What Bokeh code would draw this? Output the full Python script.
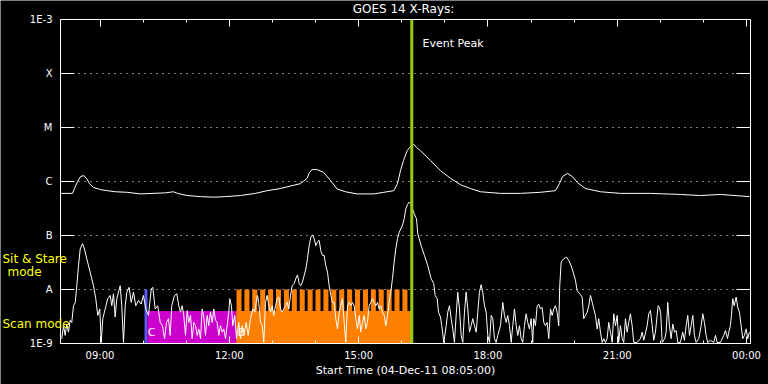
import numpy as np
from bokeh.plotting import figure
from bokeh.models import (FixedTicker, CustomJSTickFormatter, LogAxis, LinearAxis,
                          Label, Range1d, ColumnDataSource)
from bokeh.embed import file_html
from bokeh.resources import INLINE

# ---------------- data ----------------
START_HOUR = 8 + 5 / 60.0          # Start Time 04-Dec-11 08:05:00
END_HOUR = 24.09

x_ticks = [9, 12, 15, 18, 21, 24]
x_tick_labels = ["09:00", "12:00", "15:00", "18:00", "21:00", "00:00"]
x_minor_ticks = list(range(9, 25))

y_exponents = [-9, -8, -7, -6, -5, -4, -3]
y_tick_labels = ["1E-9", "A", "B", "C", "M", "X", "1E-3"]
grid_exponents = [-8, -7, -6, -5, -4]

# long channel (1-8 A): minutes after start, log10 flux
long_min = [1, 16.7, 19.5, 23.7, 27.8, 32.4, 36.2, 40.4, 45.9, 55.7,
            65.0, 76.6, 92.8, 111.4, 146.2, 157.3, 162.9, 176.4, 194.9, 213.0,
            229.7, 250.6, 271.4, 287.7, 306.2, 324.3, 334.1, 343.4, 346.6, 350.4,
            357.3, 366.1, 375.8, 385.2, 396.7, 413.0, 436.1, 450.0, 463.9, 469.1,
            473.3, 477.5, 482.6, 487.2, 491.8, 495.6, 501.1, 515.0, 528.9, 542.9,
            556.8, 570.7, 584.6, 612.5, 640.3, 668.2, 689.0, 694.6, 698.8, 705.7,
            712.7, 719.6, 730.8, 751.7, 779.5, 821.3, 863.0, 890.9, 918.7, 959.1]
long_log = [-6.22, -6.22, -6.13, -6.00, -5.91, -5.89, -5.94, -6.04, -6.11, -6.15,
            -6.17, -6.19, -6.20, -6.23, -6.21, -6.19, -6.22, -6.26, -6.28, -6.29,
            -6.28, -6.26, -6.22, -6.17, -6.13, -6.07, -6.04, -5.94, -5.83, -5.78,
            -5.78, -5.83, -5.98, -6.14, -6.19, -6.23, -6.23, -6.20, -6.17, -6.04,
            -5.80, -5.61, -5.43, -5.35, -5.31, -5.37, -5.43, -5.61, -5.80, -5.94,
            -6.06, -6.13, -6.19, -6.22, -6.22, -6.20, -6.17, -6.04, -5.91, -5.85,
            -5.91, -6.02, -6.13, -6.19, -6.22, -6.22, -6.24, -6.26, -6.24, -6.28]

# short channel (0.5-4 A): minutes after start, log10 flux
short_min = [1.8, 4.2, 6.5, 8.8, 11.1, 13.5, 15.7, 18.1, 20.5, 22.7,
             25.1, 27.4, 30.6, 33.4, 36.6, 41.3, 45.9, 49.1, 51.9, 54.7,
             56.7, 58.9, 62.2, 65.8, 69.2, 71.4, 73.8, 76.1, 78.4, 80.7,
             83.1, 85.3, 87.7, 90.1, 92.3, 95.6, 98.4, 101.6, 104.8, 108.6,
             112.3, 115.5, 118.7, 122.5, 126.3, 128.5, 131.8, 135.4, 138.8, 142.0,
             144.8, 147.6, 150.3, 152.7, 154.9, 158.7, 161.9, 164.7, 167.0, 169.4,
             171.6, 174.0, 176.4, 178.6, 181.0, 183.3, 185.6, 187.9, 190.3, 192.5,
             194.9, 197.2, 199.5, 201.8, 204.2, 206.4, 208.8, 211.2, 213.4, 215.8,
             218.1, 220.4, 222.7, 225.1, 227.3, 229.7, 232.0, 234.3, 235.7, 238.0,
             239.8, 242.6, 245.0, 248.2, 250.6, 252.9, 255.2, 258.5, 261.3, 264.5,
             267.7, 270.5, 272.4, 274.2, 276.0, 278.4, 280.8, 283.0, 285.4, 287.7,
             290.0, 292.3, 294.7, 296.9, 299.3, 301.6, 303.9, 306.2, 308.6, 310.8,
             313.2, 315.6, 317.8, 320.2, 322.5, 325.3, 327.5, 329.9, 332.3, 334.5,
             336.9, 339.2, 341.5, 343.8, 346.2, 348.4, 350.8, 353.2, 355.4, 357.7,
             360.1, 362.3, 364.7, 367.1, 369.3, 371.7, 374.0, 376.3, 378.6, 381.0,
             383.2, 385.6, 388.0, 390.2, 392.5, 394.9, 397.1, 399.5, 401.9, 404.1,
             406.5, 408.8, 411.1, 413.4, 415.8, 418.0, 420.4, 422.8, 425.0, 427.3,
             429.7, 431.9, 434.3, 436.7, 438.9, 441.3, 443.6, 445.9, 448.2, 450.6,
             452.8, 455.2, 457.5, 459.8, 462.1, 464.5, 466.7, 469.1, 471.5, 473.7,
             476.1, 478.5, 480.7, 483.0, 485.4, 487.6, 492.4, 495.6, 497.4, 502.1,
             506.7, 511.3, 516.0, 519.6, 521.6, 524.4, 526.2, 529.0, 530.8, 533.6,
             536.9, 539.1, 541.5, 543.9, 546.1, 548.4, 550.8, 553.0, 555.4, 557.8,
             560.0, 562.4, 564.7, 567.0, 569.3, 571.7, 573.9, 576.3, 578.7, 580.9,
             583.2, 585.6, 587.8, 590.2, 592.6, 594.8, 597.2, 599.6, 601.8, 604.1,
             606.5, 608.7, 612.5, 615.7, 618.0, 620.4, 622.6, 625.0, 627.4, 629.6,
             632.0, 634.4, 636.6, 638.9, 641.3, 643.5, 645.9, 648.2, 650.5, 652.8,
             655.2, 657.4, 658.8, 661.2, 663.6, 665.8, 668.2, 670.5, 672.8, 675.1,
             677.5, 679.7, 682.1, 684.4, 686.7, 689.0, 691.4, 693.6, 695.0, 697.0,
             700.6, 704.4, 707.5, 710.9, 713.7, 716.9, 719.2, 722.9, 726.2, 728.4,
             730.8, 733.2, 735.4, 737.8, 740.2, 742.4, 744.7, 747.1, 749.3, 751.7,
             754.1, 756.3, 758.6, 761.0, 763.2, 765.6, 768.0, 770.2, 772.6, 775.0,
             777.1, 779.5, 781.9, 784.1, 786.5, 788.8, 791.1, 793.4, 795.8, 798.0,
             802.8, 807.4, 809.7, 812.0, 816.7, 818.9, 821.3, 823.7, 825.9, 828.2,
             830.6, 832.0, 833.8, 835.6, 837.6, 841.2, 843.1, 845.4, 847.7, 850.1,
             852.3, 854.7, 857.1, 859.3, 863.0, 866.2, 868.6, 871.0, 873.2, 875.6,
             877.9, 880.2, 882.5, 884.9, 888.5, 891.9, 894.1, 896.4, 898.8, 901.0,
             904.8, 909.4, 911.8, 914.1, 918.7, 923.3, 925.7, 928.5, 930.3, 932.6,
             934.0, 935.8, 937.8, 940.6, 942.8, 945.2, 947.5, 949.8, 952.1, 954.5,
             956.7, 959.1]
short_log = [-8.91, -8.67, -8.85, -8.64, -8.79, -8.57, -8.61, -8.30, -8.24, -7.93,
             -7.56, -7.25, -7.15, -7.25, -7.43, -7.68, -7.93, -8.17, -8.48, -8.36,
             -8.98, -8.54, -8.36, -8.17, -8.11, -8.30, -8.08, -8.51, -8.17, -8.05,
             -7.93, -8.30, -8.98, -8.30, -8.05, -7.96, -8.24, -8.05, -8.30, -8.20,
             -8.27, -8.11, -8.36, -8.48, -7.99, -7.96, -8.36, -8.30, -8.61, -8.67,
             -8.91, -8.61, -8.54, -8.85, -8.30, -8.11, -8.08, -8.30, -8.42, -8.30,
             -8.48, -8.85, -8.39, -8.61, -8.48, -8.91, -8.61, -8.67, -8.85, -8.73,
             -8.91, -8.36, -8.51, -8.85, -8.48, -8.67, -8.42, -8.61, -8.36, -8.57,
             -8.61, -8.85, -8.67, -8.79, -8.73, -8.91, -8.67, -8.42, -8.17, -8.30,
             -8.67, -8.48, -8.91, -8.61, -8.91, -8.67, -8.85, -8.61, -8.85, -8.54,
             -8.36, -8.42, -8.24, -8.11, -8.24, -8.61, -8.67, -8.98, -8.24, -8.11,
             -8.30, -8.42, -8.30, -8.48, -8.30, -8.17, -8.14, -8.36, -8.42, -8.36,
             -8.30, -8.24, -8.36, -8.11, -7.93, -7.89, -7.80, -7.73, -7.89, -7.93,
             -7.86, -7.74, -7.62, -7.43, -7.19, -7.03, -6.99, -7.06, -7.19, -7.12,
             -7.09, -7.28, -7.37, -7.37, -7.56, -7.68, -7.93, -8.11, -8.24, -8.24,
             -8.54, -8.73, -8.42, -8.30, -8.17, -8.61, -8.98, -8.30, -8.24, -8.30,
             -8.24, -8.30, -8.54, -8.73, -8.48, -8.79, -8.61, -8.48, -8.73, -8.61,
             -8.30, -8.24, -8.17, -8.24, -8.30, -8.24, -8.36, -8.30, -8.42, -8.48,
             -8.67, -8.48, -8.24, -8.05, -7.80, -7.49, -7.25, -7.06, -6.94, -6.88,
             -6.81, -6.69, -6.51, -6.43, -6.38, -6.41, -6.60, -6.69, -6.97, -7.19,
             -7.37, -7.56, -7.80, -7.89, -8.11, -8.17, -8.42, -8.51, -8.67, -8.98,
             -8.67, -8.42, -8.30, -8.54, -8.73, -8.98, -8.48, -8.05, -8.36, -8.85,
             -8.98, -8.42, -8.05, -8.36, -8.79, -8.67, -8.54, -8.67, -8.79, -8.42,
             -8.05, -7.91, -8.05, -8.30, -8.42, -8.85, -8.98, -8.48, -8.54, -8.91,
             -8.98, -8.85, -8.67, -8.24, -8.48, -8.61, -8.48, -8.67, -8.98, -8.67,
             -8.36, -8.67, -8.85, -8.67, -8.91, -8.98, -8.67, -8.45, -8.61, -8.73,
             -8.54, -8.98, -8.54, -8.67, -8.30, -8.27, -8.36, -8.33, -8.61, -8.67,
             -8.61, -8.91, -8.36, -8.48, -8.36, -8.30, -8.42, -8.67, -7.93, -7.49,
             -7.43, -7.40, -7.46, -7.56, -7.68, -7.83, -8.02, -8.08, -8.14, -8.54,
             -8.48, -8.42, -8.30, -8.11, -8.24, -8.36, -8.48, -8.73, -8.54, -8.79,
             -8.98, -8.91, -8.98, -8.91, -8.61, -8.79, -8.98, -8.45, -8.67, -8.48,
             -8.98, -8.67, -8.91, -8.98, -8.54, -8.79, -8.61, -8.45, -8.67, -8.98,
             -8.98, -8.91, -8.79, -8.94, -8.67, -8.45, -8.39, -8.67, -8.94, -8.79,
             -8.48, -8.30, -8.33, -8.45, -8.98, -8.91, -8.79, -8.24, -8.67, -8.91,
             -8.64, -8.79, -8.76, -8.98, -8.98, -8.79, -8.94, -8.67, -8.48, -8.85,
             -8.67, -8.48, -8.85, -8.98, -8.91, -8.67, -8.45, -8.61, -8.85, -8.98,
             -8.94, -8.98, -8.85, -8.98, -8.98, -8.85, -8.76, -8.91, -8.79, -8.67,
             -8.48, -8.17, -8.30, -8.14, -8.33, -8.42, -8.67, -8.91, -8.85, -8.73,
             -8.91, -8.79]

# observing-mode blocks (minutes after start, top as log10 flux)
block_start_min = [117, 121, 245]
block_end_min = [121, 245, 489]
block_top_log = [-8.0, -8.4, -8.4]
block_colors = ["#5b5bff", "#cc00cc", "#ff8000"]

# sit & stare exposures (minutes after start)
stare_start_min = [245, 256, 267, 278, 289, 300, 311, 322, 333, 344, 355,
                   366, 377, 388, 399, 410, 421, 432, 443, 454, 465, 476]
stare_length_min = 7
stare_top_log = -8.0

event_peak_min = 489

# ---------------- layout constants ----------------
def to_hours(minutes):
    return START_HOUR + np.asarray(minutes, dtype=float) / 60.0

FONT = "DejaVu Sans"
WHITE = "white"
W, H = 768, 384
PX_PER_HOUR = 43.1
PX_PER_DECADE = 54.0
LEFT_PX, TOP_PX, BOTTOM_PX = 60, 19, 41
Y_MIN, Y_MAX = 1e-9, 1e-3
VIEW_X0 = START_HOUR - LEFT_PX / PX_PER_HOUR
VIEW_X1 = VIEW_X0 + W / PX_PER_HOUR
VIEW_Y0 = 10 ** (np.log10(Y_MIN) - BOTTOM_PX / PX_PER_DECADE)
VIEW_Y1 = 10 ** (np.log10(Y_MAX) + TOP_PX / PX_PER_DECADE)

def x_at(px):
    return VIEW_X0 + px / PX_PER_HOUR

def y_at(py):
    return 10 ** (np.log10(Y_MAX) - (py - TOP_PX) / PX_PER_DECADE)

p = figure(width=W, height=H,
           x_range=Range1d(VIEW_X0, VIEW_X1),
           y_range=Range1d(VIEW_Y0, VIEW_Y1), y_axis_type="log",
           output_backend="svg", toolbar_location=None,
           min_border_left=0, min_border_right=0,
           min_border_top=0, min_border_bottom=0,
           background_fill_color="black", border_fill_color="black",
           outline_line_color=None)

# x axes (bottom & top) fixed at the flux limits
xticker = FixedTicker(ticks=x_ticks, minor_ticks=x_minor_ticks)
xfmt = CustomJSTickFormatter(args=dict(labels=x_tick_labels, tvals=x_ticks),
                             code="const i = tvals.indexOf(Math.round(tick)); return i >= 0 ? labels[i] : '';")
blank = CustomJSTickFormatter(code="return '';")

xa = p.xaxis[0]
xa.ticker = xticker
xa.formatter = xfmt
xa.axis_label = "Start Time (04-Dec-11 08:05:00)"
xa.bounds = (START_HOUR, END_HOUR)
xa.fixed_location = Y_MIN

top = LinearAxis(ticker=xticker, formatter=blank, bounds=(START_HOUR, END_HOUR),
                 fixed_location=Y_MAX)
p.add_layout(top, "above")

# y axes fixed at the time limits
yticker = FixedTicker(ticks=[10.0 ** e for e in y_exponents], minor_ticks=[])
yfmt = CustomJSTickFormatter(args=dict(labels=y_tick_labels),
                             code="return labels[Math.round(Math.log10(tick)) + 9];")
ya = p.yaxis[0]
ya.ticker = yticker
ya.formatter = yfmt
ya.bounds = (Y_MIN, Y_MAX)
ya.fixed_location = START_HOUR
right = LogAxis(ticker=yticker, formatter=blank, bounds=(Y_MIN, Y_MAX),
                fixed_location=END_HOUR)
p.add_layout(right, "right")

for ax in [xa, top]:
    ax.major_tick_in = 7
    ax.major_tick_out = 0
    ax.minor_tick_in = 3
    ax.minor_tick_out = 0
    ax.minor_tick_line_color = WHITE
for ax in [ya, right]:
    ax.major_tick_in = 14
    ax.major_tick_out = 0
    ax.minor_tick_line_color = None
for ax in [xa, top, ya, right]:
    ax.axis_line_color = WHITE
    ax.major_tick_line_color = WHITE
    ax.major_label_text_color = WHITE
    ax.major_label_text_font = FONT
    ax.major_label_text_font_size = "10px"
    ax.axis_label_text_color = WHITE
    ax.axis_label_text_font = FONT
    ax.axis_label_text_font_size = "11px"
    ax.axis_label_text_font_style = "normal"
top.major_label_standoff = 0
right.major_label_standoff = 0
xa.major_label_standoff = 6
xa.axis_label_standoff = 0
ya.major_label_standoff = 8

# dotted level lines between the two time limits
p.xgrid.visible = False
p.ygrid.visible = False
grid_levels = 10.0 ** np.array(grid_exponents, dtype=float)
p.segment(x0=START_HOUR, x1=END_HOUR, y0=grid_levels, y1=grid_levels,
          line_color=WHITE, line_dash="1 5", line_width=1)

# mode blocks
blocks = ColumnDataSource(dict(left=to_hours(block_start_min), right=to_hours(block_end_min),
                               top=10.0 ** np.array(block_top_log),
                               bottom=np.full(len(block_start_min), Y_MIN),
                               color=block_colors))
p.quad(left="left", right="right", top="top", bottom="bottom", fill_color="color",
       line_color=None, source=blocks)

stare_start = np.array(stare_start_min, dtype=float)
p.quad(left=to_hours(stare_start), right=to_hours(stare_start + stare_length_min),
       top=10.0 ** stare_top_log, bottom=Y_MIN, fill_color="#ff8000", line_color=None)

# curves
p.line(to_hours(long_min), 10.0 ** np.array(long_log), line_color=WHITE, line_width=1)
p.line(to_hours(short_min), 10.0 ** np.array(short_log), line_color=WHITE, line_width=1)

# event peak
peak_h = float(to_hours(event_peak_min))
p.segment(x0=[peak_h], x1=[peak_h], y0=[Y_MIN], y1=[Y_MAX], line_color="#99cc00", line_width=3)
p.add_layout(Label(x=peak_h + 0.25, y=y_at(43), text="Event Peak", text_color=WHITE,
                   text_font=FONT, text_font_size="11px", text_baseline="middle"))

# title
p.add_layout(Label(x=x_at(403), y=y_at(8), text="GOES 14 X-Rays:", text_color=WHITE,
                   text_font=FONT, text_font_size="12px", text_baseline="middle",
                   text_align="center"))

# small markers inside blocks
p.add_layout(Label(x=float(to_hours(block_start_min[1])) + 0.01, y=10 ** -8.8, text="C",
                   text_color=WHITE, text_font=FONT, text_font_size="11px", text_baseline="middle"))
p.add_layout(Label(x=float(to_hours(block_start_min[2])) + 0.03, y=10 ** -8.8, text="B",
                   text_color=WHITE, text_font=FONT, text_font_size="11px", text_baseline="middle"))

# mode annotations left of the time axis start
yellow = "#ffff00"
p.add_layout(Label(x=x_at(2), y=y_at(258), text="Sit & Stare", text_color=yellow,
                   text_font=FONT, text_font_size="12px", text_baseline="middle"))
p.add_layout(Label(x=x_at(24), y=y_at(271), text="mode", text_color=yellow,
                   text_font=FONT, text_font_size="12px", text_baseline="middle", text_align="center"))
p.add_layout(Label(x=x_at(2), y=y_at(323.5), text="Scan mode", text_color=yellow,
                   text_font=FONT, text_font_size="12px", text_baseline="middle"))

open("out.html", "w").write(file_html(p, INLINE))
